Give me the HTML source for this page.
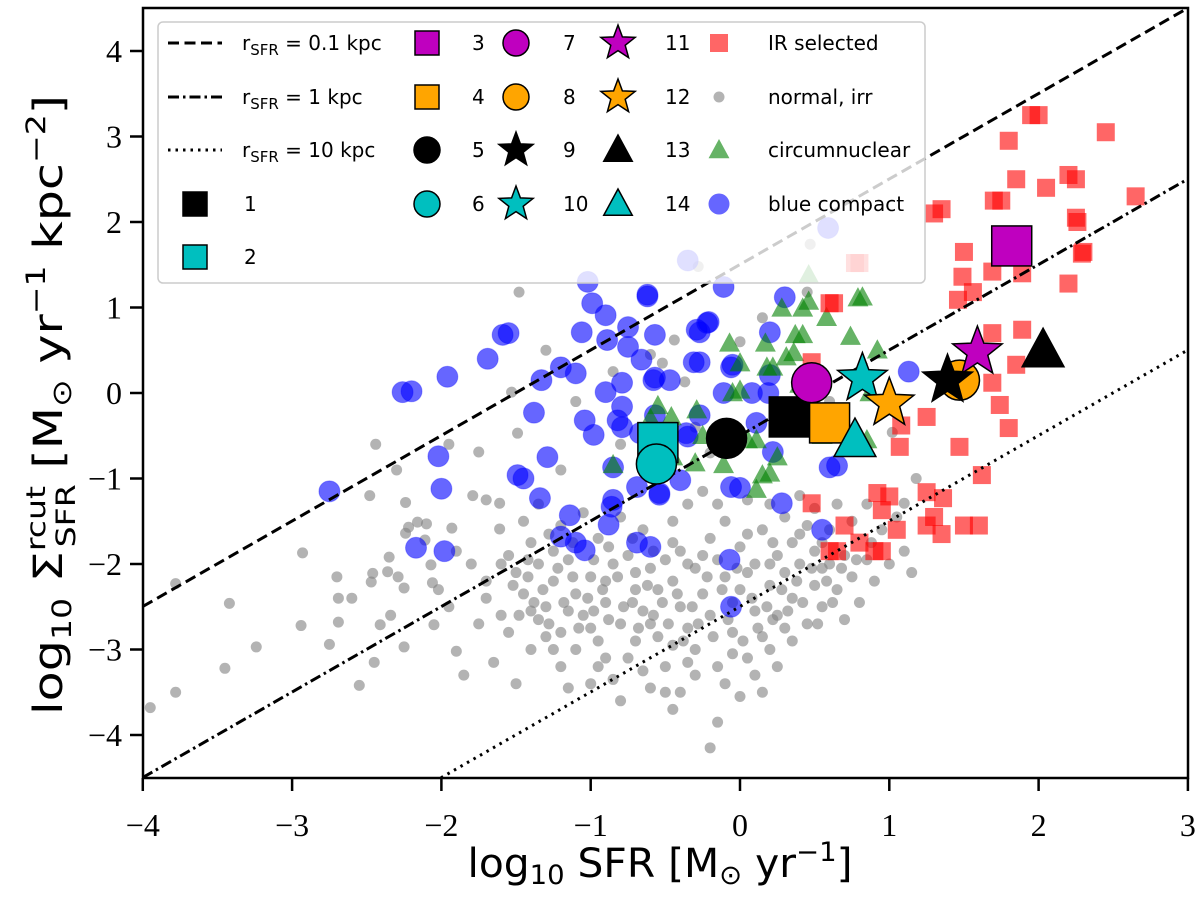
<!DOCTYPE html>
<html><head><meta charset="utf-8"><style>
html,body{margin:0;padding:0;background:#fff;overflow:hidden;width:1200px;height:898px;}
svg{display:block;}
</style></head><body>
<svg id="chart" width="1200" height="898" viewBox="0 0 1200 898" overflow="hidden" xmlns="http://www.w3.org/2000/svg">
<defs><clipPath id="plotclip"><rect x="143" y="8" width="1045" height="770"/></clipPath></defs>
<g id="plot" clip-path="url(#plotclip)"></g>
<g id="axes"></g>
<g id="legend"></g>
<text x="660" y="877" font-family="'DejaVu Sans','Liberation Sans',sans-serif" font-size="40" text-anchor="middle" textLength="385" lengthAdjust="spacingAndGlyphs">log<tspan font-size="27" dy="7">10</tspan><tspan dy="-7"> SFR [M</tspan><tspan font-size="27" dy="7">⊙</tspan><tspan dy="-7"> yr</tspan><tspan font-size="27" dy="-16">−1</tspan><tspan dy="16">]</tspan></text>
<text transform="translate(62,405) rotate(-90)" font-family="'DejaVu Sans','Liberation Sans',sans-serif" font-size="40" text-anchor="middle" textLength="620" lengthAdjust="spacingAndGlyphs">log<tspan font-size="27" dy="9">10</tspan><tspan dy="-9"> Σ</tspan><tspan font-size="27" dy="-17">rcut</tspan><tspan font-size="27" dx="-50" dy="30">SFR</tspan><tspan dy="-13"> [M</tspan><tspan font-size="27" dy="9">⊙</tspan><tspan dy="-9"> yr</tspan><tspan font-size="27" dy="-17">−1</tspan><tspan dy="17"> kpc</tspan><tspan font-size="27" dy="-17">−2</tspan><tspan dy="17">]</tspan></text>
</svg>
<script>
const xTicks = [-4,-3,-2,-1,0,1,2,3];
const yTicks = [-4,-3,-2,-1,0,1,2,3,4];
const xTickLabels = ["−4","−3","−2","−1","0","1","2","3"];
const yTickLabels = ["−4","−3","−2","−1","0","1","2","3","4"];
const lineOffsets = [1.503, -0.497, -2.497];
const grayPts = [[-3.95,-3.68],[-3.78,-3.5],[-3.45,-3.22],[-3.42,-2.46],[-3.78,-2.23],[-3.24,-2.97],[-2.94,-2.72],[-2.75,-2.94],[-2.69,-2.68],[-2.69,-2.40],[-2.60,-2.40],[-2.70,-2.15],[-2.93,-1.87],[-2.46,-2.11],[-2.47,-2.21],[-2.36,-2.09],[-2.29,-2.15],[-2.35,-1.92],[-2.25,-2.28],[-2.06,-2.22],[-2.02,-2.30],[-2.07,-2.01],[-2.41,-2.71],[-2.34,-2.60],[-2.25,-2.97],[-2.05,-2.71],[-1.90,-3.02],[-2.44,-0.60],[-2.48,-1.20],[-2.24,-1.28],[-2.30,-0.90],[-1.95,-0.60],[-1.75,-0.69],[-1.79,-1.20],[-1.70,-1.25],[-1.61,-1.29],[-1.93,-1.58],[-1.61,-1.59],[-2.22,-1.57],[-2.16,-1.51],[-2.10,-1.53],[-2.24,-1.64],[-2.11,-1.72],[-1.48,1.18],[-1.53,0.01],[-1.49,-0.47],[-2.55,-3.42],[-2.45,-3.15],
[-1.55,-1.9],[-1.5,-2.1],[-1.45,-2.35],[-1.4,-1.75],[-1.35,-2.0],[-1.3,-2.5],[-1.25,-2.2],[-1.2,-2.8],[-1.15,-1.95],[-1.1,-2.35],[-1.05,-2.6],[-1.0,-2.15],[-0.95,-2.9],[-0.9,-2.45],[-0.85,-2.0],[-0.8,-2.7],[-0.75,-3.1],[-0.7,-2.3],[-0.65,-2.55],[-0.6,-2.05],[-0.55,-2.85],[-0.5,-3.2],[-1.6,-2.6],[-1.55,-2.8],[-1.4,-3.0],[-1.3,-2.85],[-1.2,-3.2],[-1.1,-3.0],[-1.0,-3.4],[-0.9,-3.1],[-0.85,-3.35],[-0.7,-2.9],[-0.6,-3.45],[-1.45,-1.5],[-1.35,-1.3],[-1.2,-1.55],[-1.05,-1.4],[-0.95,-1.7],[-0.8,-1.45],[-0.75,-1.9],[-0.65,-1.6],[-0.55,-2.3],[-0.5,-1.95],[-1.15,-2.55],[-1.25,-1.85],[-0.9,-2.2],[-0.7,-2.1],[-1.35,-2.65],[-1.0,-2.75],[-0.6,-2.7],[-1.7,-2.4],[-1.8,-2.0],[-1.75,-2.7],[-1.85,-3.3],[-1.65,-3.15],[-1.5,-3.4],
[-0.45,-2.2],[-0.4,-2.5],[-0.4,-1.85],[-0.35,-2.75],[-0.3,-2.05],[-0.3,-3.0],[-0.25,-2.35],[-0.2,-1.7],[-0.2,-2.6],[-0.15,-3.2],[-0.1,-2.15],[-0.1,-1.5],[-0.05,-2.8],[0.0,-2.3],[0.0,-1.8],[0.05,-3.1],[0.1,-2.0],[0.1,-2.55],[0.15,-1.6],[0.15,-2.85],[0.2,-2.25],[0.25,-1.9],[0.25,-2.6],[0.3,-1.45],[0.3,-2.1],[0.35,-2.4],[0.35,-1.75],[0.4,-2.0],[0.45,-2.7],[0.45,-1.55],[0.5,-2.25],[0.5,-1.85],[-0.45,-1.5],[-0.35,-1.3],[-0.25,-1.15],[-0.15,-1.3],[0.05,-1.25],[0.2,-1.3],[0.4,-1.2],[-0.45,-2.95],[-0.3,-3.3],[-0.1,-3.4],[0.2,-3.0],[0.0,-3.55],[-0.15,-3.85],[-0.2,-4.15],[0.35,-2.9],[0.3,-2.75],[-0.4,-3.5],[0.1,-3.3],[-0.05,-2.45],[0.2,-2.0],[-0.25,-1.9],[0.05,-2.1],
[0.55,-2.5],[0.6,-2.0],[0.6,-1.6],[0.65,-2.3],[0.7,-1.9],[0.75,-2.15],[0.75,-1.5],[0.8,-2.45],[0.85,-1.95],[0.85,-1.3],[0.9,-2.2],[0.95,-1.6],[1.0,-2.0],[1.05,-1.45],[1.1,-1.85],[1.15,-2.1],[1.18,-1.0],[1.02,-0.46],[1.1,-1.29],[0.7,-2.65],[0.55,-2.05],[0.65,-1.3],[0.5,-1.35],
[0.15,0.88],[0.45,1.18],[0.47,1.74],[-0.28,1.48],[-0.44,0.62],[-0.52,0.35],[-0.37,0.13],[-0.6,0.45],[-0.85,0.25],[-1.3,0.5],[-1.1,-0.1],[-0.8,-0.6],[-1.2,-0.9],[-0.3,-0.4],[-0.5,-0.95],[-0.2,-0.7],[0.3,-0.3],[0.6,-0.1],[0.0,0.6],
[-1.52,-2.25],[-1.42,-2.15],[-1.32,-2.3],[-1.22,-2.05],[-1.12,-2.15],[-1.02,-2.4],[-0.92,-2.3],[-0.82,-2.15],[-0.72,-2.45],[-0.62,-2.25],[-0.52,-2.45],[-0.42,-2.35],[-0.32,-2.5],[-0.22,-2.15],[-0.12,-2.3],[-0.02,-2.05],[0.08,-2.4],[0.18,-2.5],[0.28,-2.3],[0.38,-2.2],[0.48,-2.05],[0.58,-2.2],[0.68,-2.05],[0.78,-1.95],[0.88,-1.75],[-1.48,-2.6],[-1.38,-2.45],[-1.28,-2.7],[-1.18,-2.45],[-1.08,-2.75],[-0.98,-2.55],[-0.88,-2.65],[-0.78,-2.5],[-0.68,-2.75],[-0.58,-2.6],[-0.48,-2.7],[-0.38,-2.9],[-0.28,-2.7],[-0.18,-2.85],[-0.08,-2.65],[0.02,-2.9],[0.12,-2.75],[0.22,-2.65],[0.32,-2.55],[0.42,-2.45],[0.52,-2.7],[0.62,-2.45],[-1.42,-1.95],[-1.28,-1.65],[-1.12,-1.75],[-0.98,-1.95],[-0.88,-1.8],[-0.72,-1.7],[-0.58,-1.85],[-0.45,-1.75],[-0.35,-2.0],[-0.15,-1.95],[0.05,-1.65],[0.22,-1.75],[0.4,-1.65],[0.55,-1.75],[-0.95,-3.2],[-0.65,-3.25],[-0.35,-3.15],[-0.05,-3.05],[0.25,-3.2],[-1.15,-3.45],[-0.8,-3.6],[-0.5,-3.5],[0.15,-3.5],[-1.95,-2.5],[-1.6,-2.0],[-1.9,-1.85],[-1.7,-2.2],[-1.4,-2.55],[-1.25,-3.0],[-0.45,-3.7]];
const bluePts = [[-2.26,0.01],[-2.2,0.02],[-1.96,0.19],[-1.69,0.40],[-1.59,0.68],[-1.55,0.70],[-1.38,-0.23],[-2.75,-1.15],[-2.02,-0.74],[-2.00,-1.12],[-2.17,-1.81],[-1.98,-1.85],[-1.49,-0.96],[-1.45,-1.0],[-1.34,-1.23],[-1.14,-1.43],[-1.20,-1.68],[-1.04,-1.84],[-1.1,-1.75],[-0.88,-1.54],[-0.69,-1.75],[-0.60,-1.80],[-0.86,-1.33],[-1.04,-0.32],[-0.98,-0.49],[-1.29,-0.75],[-1.33,0.15],[-1.20,0.30],[-1.10,0.23],[-1.06,0.71],[-0.99,1.05],[-1.02,1.30],[-0.90,0.91],[-0.75,0.77],[-0.89,0.62],[-0.75,0.54],[-0.66,0.39],[-0.62,1.15],[-0.57,0.68],[-0.27,0.71],[-0.21,0.83],[-0.31,0.36],[-0.11,1.24],[-0.90,0.01],[-0.79,0.12],[-0.79,-0.16],[-0.57,0.18],[-0.47,0.15],[-0.57,-0.26],[-0.27,-0.26],[-0.11,0.00],[-0.79,-0.40],[-0.36,-0.47],[-0.85,-0.87],[-0.69,-1.10],[-0.54,-1.19],[-0.06,0.30],[-0.06,-1.10],[-0.06,-2.50],[-0.07,-1.95],[-0.62,1.13],[0.30,1.12],[0.20,0.71],[-0.22,0.82],[-0.29,0.74],[-0.27,0.36],[-0.05,0.33],[0.20,0.21],[-0.58,0.15],[0.08,0.0],[0.19,0.0],[1.13,0.25],[0.22,-0.69],[0.60,-0.87],[0.00,-1.11],[0.28,-1.29],[-0.40,-1.02],[-0.35,-0.51],[-0.82,-0.32],[-0.67,-0.47],[-0.85,-1.25],[-0.54,-1.17],[0.11,-0.35],[0.59,1.93],[-0.35,1.55],[0.55,-1.6],[0.65,-0.85]];
const redPts = [[1.89,1.40],[1.49,1.36],[1.69,1.42],[1.56,1.18],[1.46,1.09],[2.20,1.28],[2.29,1.63],[0.63,1.05],[0.6,1.05],[1.69,0.70],[1.89,0.74],[1.85,0.33],[1.69,0.12],[1.74,-0.14],[1.80,-0.41],[1.25,-0.28],[1.47,-0.63],[1.08,-0.38],[1.07,-0.63],[0.48,0.36],[1.62,-0.96],[0.92,-1.17],[1.00,-1.21],[1.25,-1.16],[1.36,-1.23],[0.95,-1.37],[0.48,-1.29],[0.77,1.52],[0.8,1.52],[2.26,2.00],[2.45,3.05],[1.95,3.25],[2.0,3.25],[1.8,2.95],[2.2,2.55],[2.25,2.5],[2.05,2.4],[1.85,2.5],[2.25,2.05],[2.65,2.3],[1.3,2.1],[1.35,2.15],[1.7,2.25],[1.75,2.25],[2.3,1.65],[1.5,1.65],[1.5,-1.55],[1.6,-1.55],[1.25,-1.55],[1.3,-1.45],[1.35,-1.65],[0.9,-1.85],[0.95,-1.85],[0.6,-1.85],[0.65,-1.85],[0.8,-1.75],[1.05,-1.6],[0.7,-1.55]];
const greenPts = [[0.46,1.38],[0.82,1.12],[0.79,1.11],[0.58,0.88],[0.42,0.99],[0.46,1.07],[0.28,0.99],[0.74,0.66],[0.42,0.68],[0.37,0.68],[-0.07,0.58],[0.17,0.58],[0.92,0.50],[0.31,0.42],[0.36,0.47],[0.00,0.35],[0.18,0.30],[0.22,0.30],[0.00,0.03],[-0.29,-0.20],[-0.46,-0.28],[0.11,-0.55],[0.85,-0.55],[-0.11,-0.84],[-0.30,-0.82],[0.20,-0.94],[0.15,-0.96],[0.11,-1.13],[-0.85,-0.84],[-0.05,0.0],[0.87,0.0],[-0.6,-0.3],[-0.45,-0.75],[-0.55,-0.15],[0.55,-0.5],[0.4,0.1],[0.25,-0.75],[0.05,-0.55],[-0.25,-0.5]];
const specialX = [0.33,-0.55,1.82,0.60,-0.09,-0.56,0.48,1.47,1.39,0.82,1.59,1.00,2.03,0.77];
const specialY = [-0.28,-0.58,1.72,-0.35,-0.53,-0.83,0.12,0.15,0.15,0.17,0.48,-0.12,0.50,-0.55];
const specialShape = ["s","s","s","s","o","o","o","o","*","*","*","*","^","^"];
const specialColor = ["#000","#00bfbf","#bf00bf","#ffa500","#000","#00bfbf","#bf00bf","#ffa500","#000","#00bfbf","#bf00bf","#ffa500","#000","#00bfbf"];

const NS="http://www.w3.org/2000/svg";
const XMIN=-4, XMAX=3, YMIN=-4.5, YMAX=4.5;
const X = v => 740 + v*149.3;
const Y = v => 393 - v*85.5;
function mk(tag, attrs, parent){const e=document.createElementNS(NS,tag);for(const k in attrs)e.setAttribute(k,attrs[k]);parent.appendChild(e);return e;}
function starPath(cx,cy,R){const r=R*0.42;let d="";for(let i=0;i<10;i++){const a=-Math.PI/2+i*Math.PI/5;const rr=i%2?r:R;d+=(i?"L":"M")+(cx+rr*Math.cos(a)).toFixed(1)+","+(cy+rr*Math.sin(a)).toFixed(1);}return d+"Z";}
function triPath(cx,cy,s){return `M${cx},${cy-s}L${cx+s*0.95},${cy+s*0.75}L${cx-s*0.95},${cy+s*0.75}Z`;}
function marker(shape,cx,cy,size,fill,stroke,op,parent){
  let e;
  if(shape==="s") e=mk("rect",{x:cx-size,y:cy-size,width:2*size,height:2*size,fill:fill,stroke:stroke,"stroke-width":1.5,opacity:op},parent);
  else if(shape==="o") e=mk("circle",{cx:cx,cy:cy,r:size,fill:fill,stroke:stroke,"stroke-width":1.5,opacity:op},parent);
  else if(shape==="*") e=mk("path",{d:starPath(cx,cy,size),fill:fill,stroke:stroke,"stroke-width":1.5,opacity:op},parent);
  else e=mk("path",{d:triPath(cx,cy,size),fill:fill,stroke:stroke,"stroke-width":1.5,opacity:op},parent);
  return e;
}
const plot=document.getElementById("plot");
grayPts.forEach(p=>{const c=mk("circle",{cx:X(p[0]),cy:Y(p[1]),r:5.5,fill:"#808080","fill-opacity":0.6},plot);

});
bluePts.forEach(p=>{const c=mk("circle",{cx:X(p[0]),cy:Y(p[1]),r:10.5,fill:"#0000ff","fill-opacity":0.6,stroke:"#0000ff","stroke-opacity":0.3},plot);

});
greenPts.forEach(p=>{const c=mk("path",{d:triPath(X(p[0]),Y(p[1]),11),fill:"#008000","fill-opacity":0.6},plot);

});
redPts.forEach(p=>{const c=mk("rect",{x:X(p[0])-9,y:Y(p[1])-9,width:18,height:18,fill:"#ff0000","fill-opacity":0.6},plot);

});
const dashes=["11,5.5","11,4,2.5,4","2.5,5"];
const lnames=["line-r-0.1-kpc","line-r-1-kpc","line-r-10-kpc"];
lineOffsets.forEach((o,i)=>{
const xa=Math.max(XMIN,YMIN-o), xb=Math.min(XMAX,YMAX-o);
const l=mk("line",{x1:X(xa),y1:Y(xa+o),x2:X(xb),y2:Y(xb+o),stroke:"#000","stroke-width":3,"stroke-dasharray":dashes[i]},plot);

});
specialX.forEach((v,i)=>{const sh=specialShape[i];const sz=sh==="*"?26:sh==="^"?22:20;
const m=marker(sh,X(v),Y(specialY[i]),sz,specialColor[i],"#000",1,plot);

});

const axes=document.getElementById("axes");
mk("rect",{x:143,y:8,width:1045,height:770,fill:"none",stroke:"#000","stroke-width":2.5},axes);
xTicks.forEach((v,i)=>{mk("line",{x1:X(v),y1:778,x2:X(v),y2:791,stroke:"#000","stroke-width":2.5},axes);
const t=mk("text",{x:X(v),y:836,"text-anchor":"middle","font-family":"'Liberation Serif',serif","font-size":32},axes);t.textContent=xTickLabels[i];

});
yTicks.forEach((v,i)=>{mk("line",{x1:130,y1:Y(v),x2:143,y2:Y(v),stroke:"#000","stroke-width":2.5},axes);
const t=mk("text",{x:122,y:Y(v)+11,"text-anchor":"end","font-family":"'Liberation Serif',serif","font-size":32},axes);t.textContent=yTickLabels[i];

});

const lg=document.getElementById("legend");
mk("rect",{x:158,y:22,width:767,height:261,rx:5,fill:"#fff","fill-opacity":0.8,stroke:"#ccc","stroke-width":1.5},lg);
const rows=[43,97,150,204,257];
const FS={"font-family":"'DejaVu Sans','Liberation Sans',sans-serif","font-size":20};
function ltext(x,y,str){const t=mk("text",Object.assign({x:x,y:y+7},FS),lg);t.textContent=str;return t;}
const rl=["0.1","1","10"];
rl.forEach((r,i)=>{mk("line",{x1:168,y1:rows[i],x2:222,y2:rows[i],stroke:"#000","stroke-width":3,"stroke-dasharray":dashes[i]},lg);
const t=mk("text",Object.assign({x:242,y:rows[i]+7},FS),lg);
t.innerHTML='r<tspan font-size="15" dy="5">SFR</tspan><tspan dy="-5"> = '+r+' kpc</tspan>';

});
marker("s",195,rows[3],12,"#000","#000",1,lg);ltext(244,rows[3],"1");
marker("s",195,rows[4],12,"#00bfbf","#000",1,lg);ltext(244,rows[4],"2");
const gridA=[["s","#bf00bf"],["s","#ffa500"],["o","#000"],["o","#00bfbf"]];
const gridB=[["o","#bf00bf",3],["o","#ffa500",4],["*","#000",5],["*","#00bfbf",6]];
const gridC=[["*","#bf00bf",7],["*","#ffa500",8],["^","#000",9],["^","#00bfbf",10]];
gridA.forEach((g,i)=>{marker(g[0],427,rows[i],g[0]==="o"?13:12,g[1],"#000",1,lg);});
gridB.forEach((g,i)=>{ltext(472,rows[i],String(g[2]));marker(g[0],516,rows[i],g[0]==="*"?18:13,g[1],"#000",1,lg);});
gridC.forEach((g,i)=>{ltext(563,rows[i],String(g[2]));marker(g[0],618,rows[i],g[0]==="*"?18:15,g[1],"#000",1,lg);});
const catLabels=["IR selected","normal, irr","circumnuclear","blue compact"];
["11","12","13","14"].forEach((n,i)=>{ltext(665,rows[i],n);const t=ltext(768,rows[i],catLabels[i]);

});
mk("rect",{x:710,y:rows[0]-9,width:18,height:18,fill:"#ff0000","fill-opacity":0.6},lg);
mk("circle",{cx:719,cy:rows[1],r:5.5,fill:"#808080","fill-opacity":0.6},lg);
mk("path",{d:triPath(719,rows[2],11),fill:"#008000","fill-opacity":0.6},lg);
mk("circle",{cx:719,cy:rows[3],r:10.5,fill:"#0000ff","fill-opacity":0.6},lg);
</script>
</body></html>
